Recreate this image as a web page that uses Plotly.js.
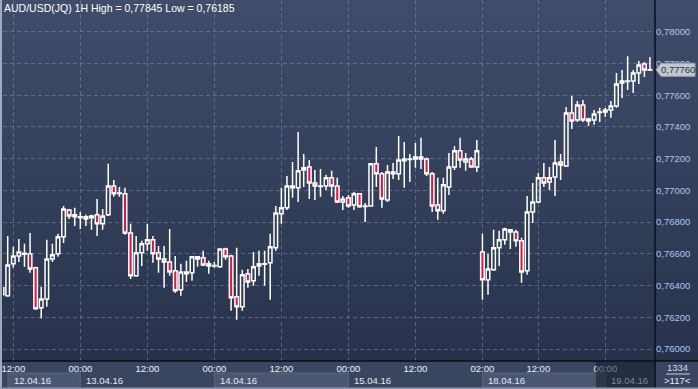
<!DOCTYPE html>
<html><head><meta charset="utf-8">
<script src="https://cdn.plot.ly/plotly-3.0.1.min.js"></script>
<style>
html,body{margin:0;padding:0;background:#2c3550;overflow:hidden;}
#chart{width:698px;height:389px;background:linear-gradient(to bottom,#404d6a 0px,#28324c 361px,#3a4560 361px,#3a4560 389px);}
</style></head><body><div id="chart"></div>
<script>
// ---- data ----
const symbol = 'AUD/USD(JQ) 1H';
const sessions = [ ['12.04.16',10,23], ['13.04.16',0,23], ['14.04.16',0,23], ['15.04.16',0,23], ['18.04.16',2,23], ['19.04.16',0,8] ];
const open = [.76386,.76335,.76537,.76587,.76597,.76600,.76512,.76260,.76316,.76568,
.76600,.76707,.76877,.76846,.76827,.76833,.76827,.76846,.76789,.76846,
.77028,.76981,.76978,.76732,.76461,.76606,.76663,.76688,.76606,.76568,
.76549,.76493,.76373,.76474,.76480,.76581,.76575,.76537,.76524,.76518,
.76631,.76587,.76329,.76266,.76474,.76430,.76524,.76534,.76543,.76638,
.76852,.76890,.77016,.77016,.77129,.77148,.77047,.77025,.77028,.77079,
.77028,.76927,.76953,.76908,.76978,.76899,.76902,.77167,.77104,.76940,
.77116,.77104,.77186,.77195,.77198,.77211,.77198,.77104,.76908,.76871,
.77022,.77148,.77249,.77179,.77198,.77148,.76612,.76436,.76499,.76638,
.76688,.76751,.76738,.76682,.76493,.76864,.76927,.77079,.77053,.77085,
.77179,.77154,.77488,.77444,.77538,.77450,.77444,.77491,.77494,.77507,
.77532,.77677,.77687,.77690,.77740,.77797,.77758];
const high = [.76405,.76713,.76644,.76694,.76663,.76732,.76518,.76392,.76688,.76663,
.76726,.76902,.76883,.76890,.76864,.76846,.76846,.76946,.76883,.77167,
.77066,.77022,.77016,.76789,.76713,.76682,.76789,.76713,.76650,.76650,
.76757,.76587,.76537,.76556,.76587,.76587,.76619,.76556,.76549,.76634,
.76638,.76594,.76638,.76499,.76505,.76612,.76619,.76619,.76726,.76902,
.77016,.77091,.77179,.77368,.77230,.77192,.77129,.77135,.77098,.77123,
.77079,.76965,.76971,.76990,.76984,.76921,.77173,.77274,.77116,.77160,
.77173,.77343,.77305,.77230,.77299,.77331,.77205,.77116,.77079,.77079,
.77236,.77280,.77331,.77236,.77211,.77318,.76726,.76600,.76751,.76745,
.76764,.76757,.76751,.76701,.76965,.77047,.77110,.77173,.77148,.77318,
.77230,.77526,.77595,.77564,.77570,.77457,.77507,.77520,.77520,.77564,
.77740,.77759,.77845,.77759,.77816,.77809,.77841];
const low = [.76329,.76329,.76512,.76549,.76518,.76480,.76247,.76192,.76266,.76549,
.76581,.76669,.76820,.76776,.76757,.76776,.76751,.76713,.76751,.76839,
.76959,.76959,.76720,.76442,.76455,.76524,.76619,.76543,.76480,.76386,
.76461,.76354,.76335,.76423,.76430,.76518,.76524,.76474,.76512,.76512,
.76562,.76241,.76185,.76241,.76386,.76398,.76461,.76398,.76310,.76619,
.76789,.76877,.76953,.76927,.77022,.76946,.76940,.76959,.77003,.76959,
.76921,.76877,.76890,.76877,.76890,.76801,.76896,.77022,.76890,.76927,
.77072,.77066,.77016,.77053,.77142,.77135,.77091,.76864,.76814,.76852,
.76971,.77129,.77142,.77123,.77142,.77116,.76310,.76342,.76493,.76524,
.76657,.76631,.76644,.76417,.76468,.76795,.76921,.77022,.77003,.76965,
.77066,.77148,.77387,.77431,.77431,.77406,.77413,.77431,.77463,.77457,
.77520,.77583,.77633,.77614,.77671,.77715,.77753];
const close = [.76342,.76530,.76587,.76612,.76603,.76505,.76253,.76316,.76568,.76594,
.76707,.76883,.76839,.76833,.76833,.76820,.76839,.76789,.76839,.77028,
.76978,.76984,.76732,.76461,.76606,.76663,.76688,.76600,.76568,.76549,
.76486,.76367,.76486,.76486,.76581,.76568,.76530,.76524,.76527,.76631,
.76581,.76323,.76266,.76468,.76423,.76518,.76537,.76537,.76644,.76858,
.76890,.77028,.77028,.77123,.77142,.77047,.77028,.77028,.77079,.77028,
.76927,.76946,.76902,.76978,.76896,.76902,.77167,.77104,.76946,.77116,
.77104,.77192,.77198,.77198,.77211,.77198,.77104,.76902,.76871,.77035,
.77148,.77249,.77192,.77198,.77148,.77249,.76436,.76505,.76638,.76688,
.76757,.76738,.76682,.76486,.76864,.76927,.77079,.77047,.77079,.77173,
.77160,.77488,.77438,.77538,.77444,.77438,.77482,.77494,.77507,.77532,
.77671,.77690,.77690,.77740,.77790,.77759,.77760];
const tickBars = ['12.04.16 12:00','13.04.16 00:00','13.04.16 12:00','14.04.16 00:00','14.04.16 12:00','15.04.16 00:00','15.04.16 12:00','18.04.16 02:00','18.04.16 12:00','19.04.16 00:00'];
const tickLabels = ['12:00','00:00','12:00','00:00','12:00','00:00','12:00','02:00','12:00','00:00'];
const yTickVals = [0.760,0.762,0.764,0.766,0.768,0.770,0.772,0.774,0.776,0.778,0.780];
const yTickText = ['0,76000','0,76200','0,76400','0,76600','0,76800','0,77000','0,77200','0,77400','0,77600','0,77800','0,78000'];
const scrollPos = '1334';

// ---- bars (time categories) ----
const bars = [];
const dayStart = [];
sessions.forEach(([d,h0,h1]) => {
  dayStart.push(bars.length);
  for (let h=h0; h<=h1; h++) bars.push(d+' '+String(h).padStart(2,'0')+':00');
});

// ---- geometry helpers (pixels -> paper) ----
const W=698,H=389,L=3,R=43,T=0,B=28;
const pw=W-L-R, ph=H-T-B;
const px = p => (p-L)/pw;
const py = p => 1-(p-T)/ph;
const XR=[0.156,116.9];
const ix = i => (i-XR[0])/(XR[1]-XR[0]);
const FONT='"Liberation Sans", Arial, sans-serif';
const GRID='rgba(125,140,170,0.55)';
const fmt = v => v.toFixed(5).replace('.',',');

const shapes=[], ann=[];
// bottom date boxes
sessions.forEach(([d],k)=>{
  const x0 = k===0 ? px(8) : ix(dayStart[k]);
  const x1 = k+1<sessions.length ? ix(dayStart[k+1]) : 1;
  if (k%2===0) shapes.push({type:'rect',xref:'paper',yref:'paper',x0:x0,x1:x1,y0:py(387),y1:py(373),
    fillcolor:'#4b5772',line:{color:'#5a6782',width:1},layer:'above'});
  else shapes.push({type:'line',xref:'paper',yref:'paper',x0:x0,x1:x0,y0:py(387),y1:py(373),line:{color:'#56627d',width:1}});
  ann.push({xref:'paper',yref:'paper',x:x0+px(7)-px(3),y:py(380),xanchor:'left',yanchor:'middle',showarrow:false,
    text:d,font:{family:FONT,size:9.5,color:k===sessions.length-1?'#7f889b':'#e6e9f0'}});
});
// dim overlay at the right of the time axis
shapes.push({type:'rect',xref:'paper',yref:'paper',x0:px(596),x1:1,y0:py(389),y1:py(361.5),fillcolor:'rgba(20,26,42,0.55)',line:{width:0}});
// axis separators
shapes.push({type:'line',xref:'paper',yref:'paper',x0:px(0),x1:px(698),y0:0,y1:0,line:{color:'#0b0f1a',width:1.5}});
shapes.push({type:'line',xref:'paper',yref:'paper',x0:1,x1:1,y0:py(389),y1:1,line:{color:'#0b0f1a',width:1.5}});
// frame strips
shapes.push({type:'rect',xref:'paper',yref:'paper',x0:px(0),x1:px(2),y0:py(389),y1:py(0),fillcolor:'#a3abba',line:{width:0}});
shapes.push({type:'rect',xref:'paper',yref:'paper',x0:px(0),x1:px(698),y0:py(389),y1:py(387.4),fillcolor:'#8f99ad',line:{width:0}});
// last price marker
const last = close[close.length-1];
const hh = 0.00041;
shapes.push({type:'path',xref:'paper',yref:'y',
  path:`M ${px(656)},${last} L ${px(661)},${last+hh} L ${px(695)},${last+hh} L ${px(695)},${last-hh} L ${px(661)},${last-hh} Z`,
  fillcolor:'#c3c7cf',line:{color:'#9ea4b0',width:1}});
ann.push({xref:'paper',yref:'y',x:px(678),y:last,xanchor:'center',yanchor:'middle',showarrow:false,
  text:fmt(last),font:{family:FONT,size:9.5,color:'#2a3142'}});
// scroll info bottom right
shapes.push({type:'line',xref:'paper',yref:'paper',x0:px(666),x1:px(690),y0:py(374),y1:py(374),line:{color:'#c5cbd8',width:1}});
ann.push({xref:'paper',yref:'paper',x:px(677),y:py(367),xanchor:'center',yanchor:'middle',showarrow:false,
  text:scrollPos,font:{family:FONT,size:9.5,color:'#d4dae6'}});
ann.push({xref:'paper',yref:'paper',x:px(677),y:py(381),xanchor:'center',yanchor:'middle',showarrow:false,
  text:'&gt;'+bars.length+'&lt;',font:{family:FONT,size:9.5,color:'#e8ecf3'}});
// title
ann.push({xref:'paper',yref:'paper',x:px(2),y:py(8),xanchor:'left',yanchor:'middle',showarrow:false,
  text:symbol+' High = '+fmt(Math.max(...high))+' Low = '+fmt(Math.min(...low)),
  font:{family:FONT,size:10.5,color:'#ffffff'}});

const trace = {type:'candlestick',x:bars,open:open,high:high,low:low,close:close,
  increasing:{line:{color:'#ffffff',width:1.5},fillcolor:'rgba(0,0,0,0)'},
  decreasing:{line:{color:'#ffffff',width:1.5},fillcolor:'#e3163f'},
  whiskerwidth:0,hoverinfo:'skip',showlegend:false};

const layout = {
  width:W,height:H,margin:{l:L,r:R,t:T,b:B,pad:0},
  paper_bgcolor:'rgba(0,0,0,0)',plot_bgcolor:'rgba(0,0,0,0)',
  boxgap:0.25,boxgroupgap:0.15,showlegend:false,
  xaxis:{type:'category',range:XR,tickvals:tickBars,ticktext:tickLabels,showgrid:true,gridcolor:GRID,griddash:'4px,3px',gridwidth:1,
    zeroline:false,showline:false,ticks:'',tickangle:0,tickfont:{family:FONT,size:9.5,color:'#eef1f6'},rangeslider:{visible:false},automargin:false,fixedrange:true},
  yaxis:{side:'right',range:[0.759244,0.782],tickvals:yTickVals,ticktext:yTickText,showgrid:true,gridcolor:GRID,griddash:'4px,3px',gridwidth:1,
    zeroline:false,showline:false,ticks:'',tickfont:{family:FONT,size:9.5,color:'#aac6ee'},automargin:false,fixedrange:true},
  shapes:shapes,annotations:ann
};
Plotly.newPlot('chart',[trace],layout,{staticPlot:true,displayModeBar:false});
</script></body></html>
